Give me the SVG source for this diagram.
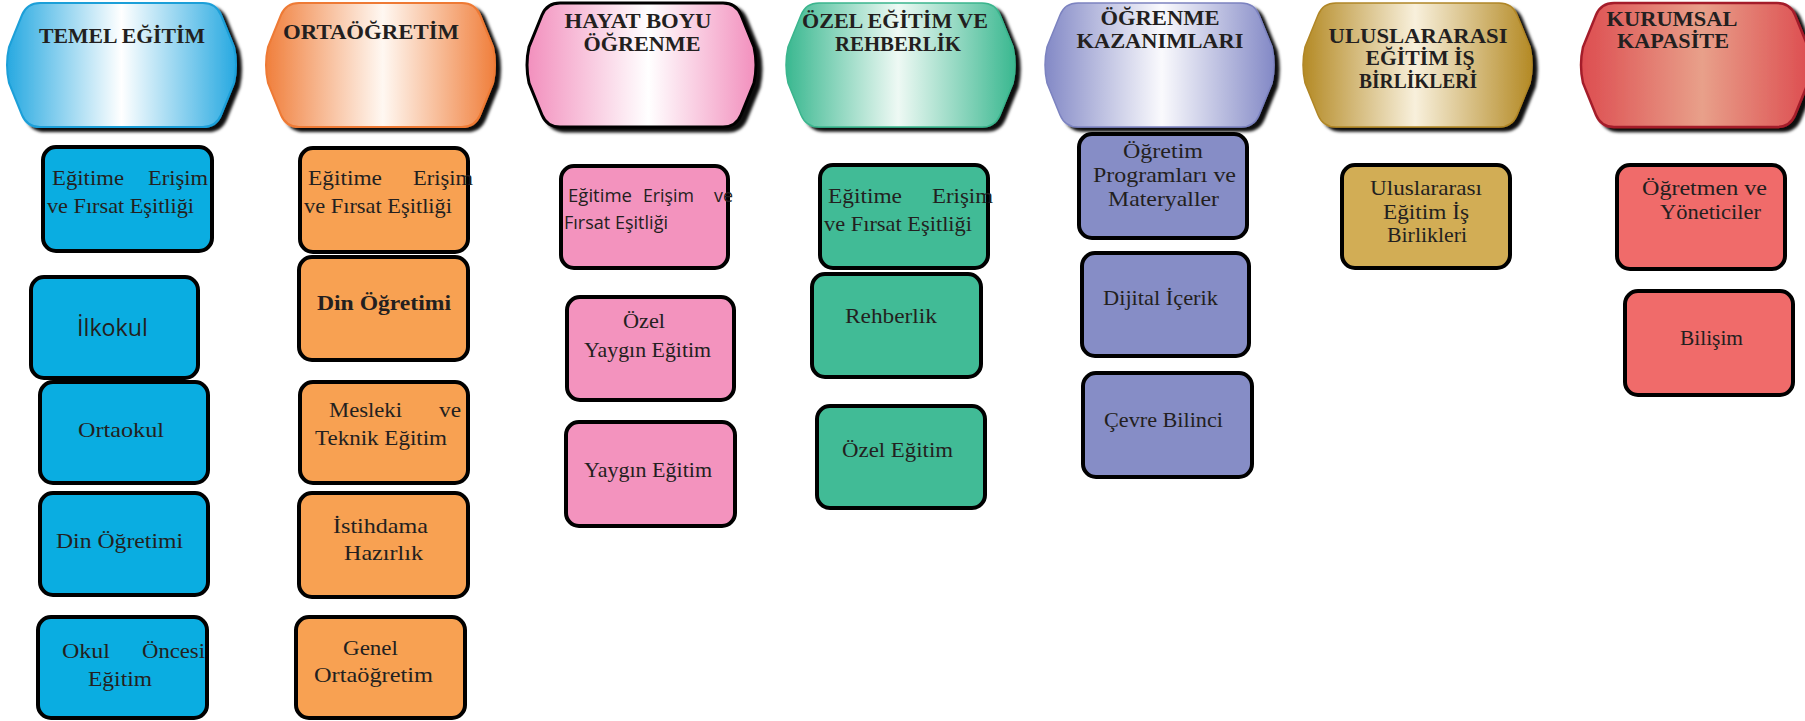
<svg xmlns="http://www.w3.org/2000/svg" xmlns:xlink="http://www.w3.org/1999/xlink" width="1805" height="721" viewBox="0 0 1805 721">
<style>
.box{stroke:#000;stroke-width:4;}
.t{font-family:"Liberation Serif",serif;font-size:22px;fill:#231f20;}
.tb{font-weight:bold;}
.ts{font-family:"Open Sans","Liberation Sans",sans-serif;font-size:18px;fill:#231f20;}
.h{font-family:"Liberation Serif",serif;font-weight:bold;font-size:21px;fill:#231f20;text-anchor:middle;}
.blue{fill:#0aade1;}
.orange{fill:#f8a152;}
.pink{fill:#f393be;}
.green{fill:#41bb96;}
.purple{fill:#868dc6;}
.gold{fill:#d2ad55;}
.red{fill:#f06b6a;}
</style>
<defs>
<path id="hex" d="M34,0 L197,0 Q210,0 215,12 L228,44 Q232,62 228,80 L215,112 Q210,124 197,124 L34,124 Q21,124 16,112 L3,80 Q-1,62 3,44 L16,12 Q21,0 34,0 Z"/>
<filter id="sh" x="-10%" y="-10%" width="125%" height="130%">
<feDropShadow dx="5" dy="4" stdDeviation="1.6" flood-color="#000" flood-opacity="0.95"/>
</filter>
<linearGradient id="gBlue" x1="0" y1="0" x2="1" y2="0"><stop offset="0" stop-color="#27a9e1"/><stop offset="0.5" stop-color="#ffffff"/><stop offset="1" stop-color="#27a9e1"/></linearGradient>
<linearGradient id="gOrange" x1="0" y1="0" x2="1" y2="0"><stop offset="0" stop-color="#f07f3c"/><stop offset="0.51" stop-color="#fff8f2"/><stop offset="1" stop-color="#f07f3c"/></linearGradient>
<linearGradient id="gPink" x1="0" y1="0" x2="1" y2="0"><stop offset="0" stop-color="#f28fbd"/><stop offset="0.53" stop-color="#ffffff"/><stop offset="1" stop-color="#f28fbd"/></linearGradient>
<linearGradient id="gGreen" x1="0" y1="0" x2="1" y2="0"><stop offset="0" stop-color="#3ab890"/><stop offset="0.49" stop-color="#eef9f4"/><stop offset="1" stop-color="#3ab890"/></linearGradient>
<linearGradient id="gPurple" x1="0" y1="0" x2="1" y2="0"><stop offset="0" stop-color="#8389c6"/><stop offset="0.51" stop-color="#fafafd"/><stop offset="1" stop-color="#8389c6"/></linearGradient>
<linearGradient id="gGold" x1="0" y1="0" x2="1" y2="0"><stop offset="0" stop-color="#b48a25"/><stop offset="0.49" stop-color="#f8f0dc"/><stop offset="1" stop-color="#b48a25"/></linearGradient>
<linearGradient id="gRed" x1="0" y1="0" x2="1" y2="0"><stop offset="0" stop-color="#dd4d50"/><stop offset="0.53" stop-color="#e8a08a"/><stop offset="1" stop-color="#dd4d50"/></linearGradient>
</defs>
<rect width="1805" height="721" fill="#fff"/>

<g id="headers">
<g id="h-temel">
<use href="#hex" x="6" y="3" fill="url(#gBlue)" stroke="#1c9fd8" stroke-width="2" filter="url(#sh)"/>
<text class="h" x="122" y="43" textLength="166" lengthAdjust="spacingAndGlyphs">TEMEL EĞİTİM</text>
</g>
<g id="h-orta">
<use href="#hex" x="265" y="3" fill="url(#gOrange)" stroke="#ee7a35" stroke-width="2" filter="url(#sh)"/>
<text class="h" x="371" y="39" textLength="176" lengthAdjust="spacingAndGlyphs">ORTAÖĞRETİM</text>
</g>
<g id="h-hayat">
<use href="#hex" x="526" y="3" fill="url(#gPink)" stroke="#000" stroke-width="3" filter="url(#sh)"/>
<text class="h" x="638" y="28" textLength="147" lengthAdjust="spacingAndGlyphs">HAYAT BOYU</text>
<text class="h" x="642" y="51" textLength="117" lengthAdjust="spacingAndGlyphs">ÖĞRENME</text>
</g>
<g id="h-ozel">
<use href="#hex" x="785" y="3" fill="url(#gGreen)" stroke="#3ab58d" stroke-width="1.5" filter="url(#sh)"/>
<text class="h" x="895" y="28" textLength="186" lengthAdjust="spacingAndGlyphs">ÖZEL EĞİTİM VE</text>
<text class="h" x="898" y="51" textLength="126" lengthAdjust="spacingAndGlyphs">REHBERLİK</text>
</g>
<g id="h-ogrenme">
<use href="#hex" x="1044" y="3" fill="url(#gPurple)" stroke="#7c83c0" stroke-width="1.5" filter="url(#sh)"/>
<text class="h" x="1160" y="25" textLength="119" lengthAdjust="spacingAndGlyphs">ÖĞRENME</text>
<text class="h" x="1160" y="48" textLength="167" lengthAdjust="spacingAndGlyphs">KAZANIMLARI</text>
</g>
<g id="h-ulus">
<use href="#hex" x="1302" y="3" fill="url(#gGold)" stroke="#b08626" stroke-width="1.5" filter="url(#sh)"/>
<text class="h" x="1418" y="43" textLength="179" lengthAdjust="spacingAndGlyphs">ULUSLARARASI</text>
<text class="h" x="1420" y="65" textLength="109" lengthAdjust="spacingAndGlyphs">EĞİTİM İŞ</text>
<text class="h" x="1418" y="88" textLength="118" lengthAdjust="spacingAndGlyphs">BİRLİKLERİ</text>
</g>
<g id="h-kurum">
<use href="#hex" x="1580" y="3" fill="url(#gRed)" stroke="#a41e2a" stroke-width="2.5" filter="url(#sh)"/>
<text class="h" x="1672" y="26" textLength="131" lengthAdjust="spacingAndGlyphs">KURUMSAL</text>
<text class="h" x="1673" y="48" textLength="112" lengthAdjust="spacingAndGlyphs">KAPASİTE</text>
</g>
</g>

<g id="connectors"></g>

<g id="col-temel">
<g id="b1-esitlik">
<rect class="box blue" x="43" y="147" width="169" height="104" rx="13"/>
<text class="t" x="52" y="185" textLength="72" lengthAdjust="spacingAndGlyphs">Eğitime</text>
<text class="t" x="148" y="185" textLength="60" lengthAdjust="spacingAndGlyphs">Erişim</text>
<text class="t" x="47" y="213" textLength="147" lengthAdjust="spacingAndGlyphs">ve Fırsat Eşitliği</text>
</g>
<g id="b1-ilkokul">
<rect class="box blue" x="31" y="277" width="167" height="101" rx="13"/>
<text class="ts" x="77" y="336" style="font-size:23px" textLength="71" lengthAdjust="spacingAndGlyphs">İlkokul</text>
</g>
<g id="b1-ortaokul">
<rect class="box blue" x="40" y="382" width="168" height="101" rx="13"/>
<text class="t" x="78" y="437" textLength="86" lengthAdjust="spacingAndGlyphs">Ortaokul</text>
</g>
<g id="b1-din">
<rect class="box blue" x="40" y="493" width="168" height="102" rx="13"/>
<text class="t" x="56" y="548" textLength="127" lengthAdjust="spacingAndGlyphs">Din Öğretimi</text>
</g>
<g id="b1-okuloncesi">
<rect class="box blue" x="38" y="617" width="169" height="101" rx="13"/>
<text class="t" x="62" y="658" textLength="48" lengthAdjust="spacingAndGlyphs">Okul</text>
<text class="t" x="142" y="658" textLength="63" lengthAdjust="spacingAndGlyphs">Öncesi</text>
<text class="t" x="88" y="686" textLength="64" lengthAdjust="spacingAndGlyphs">Eğitim</text>
</g>
</g>

<g id="col-orta">
<g id="b2-esitlik">
<rect class="box orange" x="300" y="148" width="168" height="104" rx="13"/>
<text class="t" x="308" y="185" textLength="74" lengthAdjust="spacingAndGlyphs">Eğitime</text>
<text class="t" x="413" y="185" textLength="60" lengthAdjust="spacingAndGlyphs">Erişim</text>
<text class="t" x="304" y="213" textLength="148" lengthAdjust="spacingAndGlyphs">ve Fırsat Eşitliği</text>
</g>
<g id="b2-din">
<rect class="box orange" x="299" y="257" width="169" height="103" rx="13"/>
<text class="t tb" x="317" y="310" textLength="134" lengthAdjust="spacingAndGlyphs">Din Öğretimi</text>
</g>
<g id="b2-mesleki">
<rect class="box orange" x="300" y="382" width="168" height="101" rx="13"/>
<text class="t" x="329" y="417" textLength="73" lengthAdjust="spacingAndGlyphs">Mesleki</text>
<text class="t" x="439" y="417" textLength="22" lengthAdjust="spacingAndGlyphs">ve</text>
<text class="t" x="315" y="445" textLength="132" lengthAdjust="spacingAndGlyphs">Teknik Eğitim</text>
</g>
<g id="b2-istihdam">
<rect class="box orange" x="299" y="493" width="169" height="104" rx="13"/>
<text class="t" x="333" y="533" textLength="95" lengthAdjust="spacingAndGlyphs">İstihdama</text>
<text class="t" x="344" y="560" textLength="79" lengthAdjust="spacingAndGlyphs">Hazırlık</text>
</g>
<g id="b2-genel">
<rect class="box orange" x="296" y="617" width="169" height="101" rx="13"/>
<text class="t" x="343" y="655" textLength="55" lengthAdjust="spacingAndGlyphs">Genel</text>
<text class="t" x="314" y="682" textLength="119" lengthAdjust="spacingAndGlyphs">Ortaöğretim</text>
</g>
</g>

<g id="col-hayat">
<g id="b3-esitlik">
<rect class="box pink" x="561" y="166" width="167" height="102" rx="13"/>
<text class="ts" x="568" y="202" textLength="64" lengthAdjust="spacingAndGlyphs">Eğitime</text>
<text class="ts" x="643" y="202" textLength="51" lengthAdjust="spacingAndGlyphs">Erişim</text>
<text class="ts" x="714" y="202" textLength="19" lengthAdjust="spacingAndGlyphs">ve</text>
<text class="ts" x="564" y="229" textLength="104" lengthAdjust="spacingAndGlyphs">Fırsat Eşitliği</text>
</g>
<g id="b3-ozelyaygin">
<rect class="box pink" x="567" y="297" width="167" height="103" rx="13"/>
<text class="t" x="623" y="328" textLength="42" lengthAdjust="spacingAndGlyphs">Özel</text>
<text class="t" x="584" y="357" textLength="127" lengthAdjust="spacingAndGlyphs">Yaygın Eğitim</text>
</g>
<g id="b3-yaygin">
<rect class="box pink" x="566" y="422" width="169" height="104" rx="13"/>
<text class="t" x="584" y="477" textLength="128" lengthAdjust="spacingAndGlyphs">Yaygın Eğitim</text>
</g>
</g>

<g id="col-ozel">
<g id="b4-esitlik">
<rect class="box green" x="820" y="165" width="168" height="103" rx="13"/>
<text class="t" x="828" y="203" textLength="74" lengthAdjust="spacingAndGlyphs">Eğitime</text>
<text class="t" x="932" y="203" textLength="61" lengthAdjust="spacingAndGlyphs">Erişim</text>
<text class="t" x="824" y="231" textLength="148" lengthAdjust="spacingAndGlyphs">ve Fırsat Eşitliği</text>
</g>
<g id="b4-rehberlik">
<rect class="box green" x="812" y="274" width="169" height="103" rx="13"/>
<text class="t" x="845" y="323" textLength="92" lengthAdjust="spacingAndGlyphs">Rehberlik</text>
</g>
<g id="b4-ozelegitim">
<rect class="box green" x="817" y="406" width="168" height="102" rx="13"/>
<text class="t" x="842" y="457" textLength="111" lengthAdjust="spacingAndGlyphs">Özel Eğitim</text>
</g>
</g>

<g id="col-kazanim">
<g id="b5-program">
<rect class="box purple" x="1079" y="134" width="168" height="104" rx="13"/>
<text class="t" x="1123" y="158" textLength="80" lengthAdjust="spacingAndGlyphs">Öğretim</text>
<text class="t" x="1093" y="182" textLength="143" lengthAdjust="spacingAndGlyphs">Programları ve</text>
<text class="t" x="1108" y="206" textLength="111" lengthAdjust="spacingAndGlyphs">Materyaller</text>
</g>
<g id="b5-dijital">
<rect class="box purple" x="1082" y="253" width="167" height="103" rx="13"/>
<text class="t" x="1103" y="305" textLength="115" lengthAdjust="spacingAndGlyphs">Dijital İçerik</text>
</g>
<g id="b5-cevre">
<rect class="box purple" x="1083" y="373" width="169" height="104" rx="13"/>
<text class="t" x="1104" y="427" textLength="119" lengthAdjust="spacingAndGlyphs">Çevre Bilinci</text>
</g>
</g>

<g id="col-ulus">
<g id="b6-isbirlik">
<rect class="box gold" x="1342" y="165" width="168" height="103" rx="13"/>
<text class="t" x="1370" y="195" textLength="112" lengthAdjust="spacingAndGlyphs">Uluslararası</text>
<text class="t" x="1383" y="219" textLength="86" lengthAdjust="spacingAndGlyphs">Eğitim İş</text>
<text class="t" x="1387" y="242" textLength="80" lengthAdjust="spacingAndGlyphs">Birlikleri</text>
</g>
</g>

<g id="col-kurum">
<g id="b7-ogretmen">
<rect class="box red" x="1617" y="165" width="168" height="104" rx="13"/>
<text class="t" x="1642" y="195" textLength="125" lengthAdjust="spacingAndGlyphs">Öğretmen ve</text>
<text class="t" x="1660" y="219" textLength="101" lengthAdjust="spacingAndGlyphs">Yöneticiler</text>
</g>
<g id="b7-bilisim">
<rect class="box red" x="1625" y="291" width="168" height="104" rx="13"/>
<text class="t" x="1680" y="345" textLength="63" lengthAdjust="spacingAndGlyphs">Bilişim</text>
</g>
</g>
</svg>
